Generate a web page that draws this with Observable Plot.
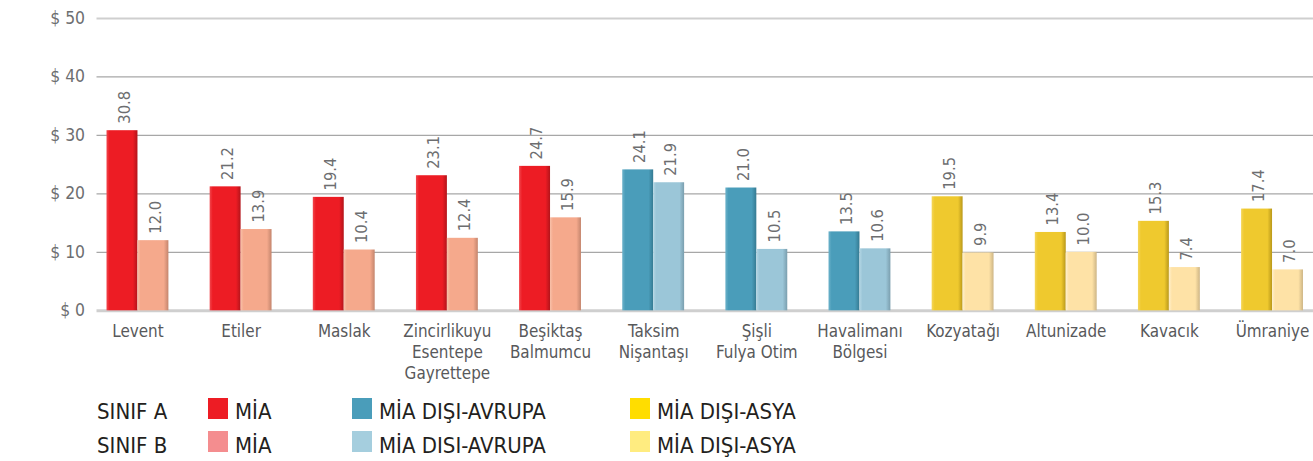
<!DOCTYPE html>
<html>
<head>
<meta charset="utf-8">
<script src="https://cdn.jsdelivr.net/npm/d3@7"></script>
<script src="https://cdn.jsdelivr.net/npm/@observablehq/plot@0.6"></script>
<style>
  html, body { margin: 0; padding: 0; background: #fff; overflow: hidden; }
  #wrap { position: relative; width: 1313px; height: 461px; overflow: hidden; font-family: "DejaVu Sans Condensed", "DejaVu Sans", sans-serif; font-stretch: condensed; }
  #legend { position: absolute; left: 0; top: 392px; width: 1313px; height: 69px; }
  .lbl { position: absolute; font-size: 22px; color: #231f20; line-height: 24px; white-space: nowrap; }
  .sw { position: absolute; width: 20px; height: 21px; }
</style>
</head>
<body>
<div id="wrap">
  <div id="chart"></div>
  <div id="legend"></div>
</div>
<script>
// ---- data ----
const districts = ["Levent", "Etiler", "Maslak", "Zincirlikuyu\nEsentepe\nGayrettepe", "Beşiktaş\nBalmumcu",
  "Taksim\nNişantaşı", "Şişli\nFulya Otim", "Havalimanı\nBölgesi", "Kozyatağı", "Altunizade", "Kavacık", "Ümraniye"];
const regions = ["MİA", "MİA", "MİA", "MİA", "MİA", "AVRUPA", "AVRUPA", "AVRUPA", "ASYA", "ASYA", "ASYA", "ASYA"];
const sinifA = [30.8, 21.2, 19.4, 23.1, 24.7, 24.1, 21.0, 13.5, 19.5, 13.4, 15.3, 17.4];
const sinifB = [12.0, 13.9, 10.4, 12.4, 15.9, 21.9, 10.5, 10.6, 9.9, 10.0, 7.4, 7.0];
const yTicks = [0, 10, 20, 30, 40, 50];
const classLabels = ["SINIF A", "SINIF B"];
const legendItems = [
  ["MİA", "MİA"],
  ["MİA DIŞI-AVRUPA", "MİA DISI-AVRUPA"],
  ["MİA DIŞI-ASYA", "MİA DIŞI-ASYA"]
];

// ---- styles ----
const barColors = {
  "MİA-A": ["#f2464c", "#ed1c24", "#b3141a"],
  "MİA-B": ["#f8c0a8", "#f5a98c", "#c4856d"],
  "AVRUPA-A": ["#6cb2ca", "#4a9dba", "#357a92"],
  "AVRUPA-B": ["#b3d6e4", "#9bc6d8", "#7a9eae"],
  "ASYA-A": ["#f5d65a", "#efc92e", "#b9981a"],
  "ASYA-B": ["#fff0cc", "#fee2a6", "#cdb585"]
};
const legendColors = [["#ed1c24", "#f48d8f"], ["#4a9dba", "#a5cede"], ["#ffdd00", "#ffec80"]];
const keys = Object.keys(barColors);
const gradId = k => "g" + keys.indexOf(k);

const rows = districts.map((d, i) => ({district: d, region: regions[i], A: sinifA[i], B: sinifB[i]}));

const font = "DejaVu Sans Condensed, DejaVu Sans, sans-serif";
const halfBand = 31.1;

const chart = Plot.plot({
  width: 1320,
  height: 392,
  marginLeft: 97,
  marginRight: 0,
  marginTop: 18,
  marginBottom: 80,
  style: {fontFamily: font, background: "transparent"},
  x: {domain: districts, paddingInner: 0.4, paddingOuter: 0.097, align: 0.5, round: false, label: null},
  y: {domain: [0, 50], label: null},
  color: {domain: keys, range: keys.map(k => `url(#${gradId(k)})`), legend: false},
  marks: [
    Plot.ruleY(yTicks.filter(t => t > 0 && t < 50), {stroke: "#a7a7a7", strokeWidth: 1.3}),
    Plot.ruleY(yTicks.filter(t => t === 50), {stroke: "#cfcfcf", strokeWidth: 2}),
    Plot.ruleY(yTicks.filter(t => t === 0), {stroke: "#cfcfcf", strokeWidth: 3}),
    Plot.barY(rows, {x: "district", y: "A", fill: d => d.region + "-A", insetRight: halfBand}),
    Plot.barY(rows, {x: "district", y: "B", fill: d => d.region + "-B", insetLeft: halfBand}),
    Plot.text(rows, {x: "district", y: "A", text: d => d.A.toFixed(1), rotate: -90, textAnchor: "start",
      lineAnchor: "middle", dx: -halfBand / 2 + 2, dy: -7, fontSize: 16.5, fill: "#6d6e70"}),
    Plot.text(rows, {x: "district", y: "B", text: d => d.B.toFixed(1), rotate: -90, textAnchor: "start",
      lineAnchor: "middle", dx: halfBand / 2 + 2, dy: -7, fontSize: 16.5, fill: "#6d6e70"}),
    Plot.axisY({ticks: yTicks, tickSize: 0, tickPadding: 12, tickFormat: d => "$ " + d,
      fontSize: 17.5, fill: "#6d6e70"}),
    Plot.axisX({tickSize: 0, tickPadding: 11, fontSize: 17, fill: "#58595b", lineHeight: 1.25})
  ]
});

// gradient defs for the bevelled bar look
const ns = "http://www.w3.org/2000/svg";
const defs = document.createElementNS(ns, "defs");
for (const k of keys) {
  const [light, base, dark] = barColors[k];
  const g = document.createElementNS(ns, "linearGradient");
  g.setAttribute("id", gradId(k));
  g.setAttribute("x1", "0"); g.setAttribute("x2", "1"); g.setAttribute("y1", "0"); g.setAttribute("y2", "0");
  [[0, light], [0.1, base], [0.85, base], [1, dark]].forEach(([o, c]) => {
    const s = document.createElementNS(ns, "stop");
    s.setAttribute("offset", o); s.setAttribute("stop-color", c);
    g.appendChild(s);
  });
  defs.appendChild(g);
}
chart.insertBefore(defs, chart.firstChild);
document.getElementById("chart").appendChild(chart);

// ---- legend ----
const legend = document.getElementById("legend");
const rowTops = [6, 39];
const colX = [208, 352, 630];
classLabels.forEach((c, r) => {
  const l = document.createElement("div");
  l.className = "lbl"; l.textContent = c;
  l.style.left = "97px"; l.style.top = (rowTops[r] + 2 + r) + "px";
  legend.appendChild(l);
  legendItems.forEach((item, ci) => {
    const sw = document.createElement("div");
    sw.className = "sw"; sw.style.background = legendColors[ci][r];
    sw.style.left = colX[ci] + "px"; sw.style.top = rowTops[r] + "px";
    legend.appendChild(sw);
    const t = document.createElement("div");
    t.className = "lbl"; t.textContent = item[r];
    t.style.left = (colX[ci] + 27) + "px"; t.style.top = (rowTops[r] + 2 + r) + "px";
    legend.appendChild(t);
  });
});
</script>
</body>
</html>
